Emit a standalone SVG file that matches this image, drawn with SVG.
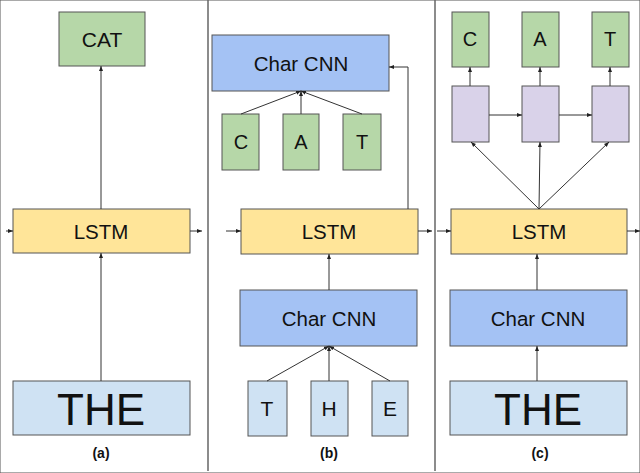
<svg xmlns="http://www.w3.org/2000/svg" width="640" height="473" viewBox="0 0 640 473">
<defs>
<marker id="ah" viewBox="0 0 10 10" refX="10" refY="5" markerWidth="5" markerHeight="5" orient="auto" markerUnits="userSpaceOnUse">
<path d="M0,1 L10,5 L0,9 z" fill="#222"/>
</marker>
<style>
rect{stroke:#555;stroke-width:1}
.g{fill:#b6d7a8}.y{fill:#ffe599}.b{fill:#a4c2f4}.lb{fill:#cfe2f3}.p{fill:#d9d2e9}
text{font-family:"Liberation Sans",Arial,sans-serif;fill:#111;text-anchor:middle;dominant-baseline:central}
.c line,.c path{stroke:#333;stroke-width:1;fill:none;marker-end:url(#ah)}
.div{stroke:#666;stroke-width:1.5}
.cap{font-weight:bold;font-size:14px}
.m{font-size:20.5px}.cn{font-size:20.5px}.l{font-size:20px}.big{font-size:44px}
</style>
</defs>
<rect width="640" height="473" fill="#fff" stroke="none"/>
<line class="div" x1="208" y1="0" x2="208" y2="471"/>
<line class="div" x1="435" y1="0" x2="435" y2="471"/>

<!-- panel a -->
<g id="a-cat"><rect class="g" x="59" y="12" width="86" height="54"/><text x="102" y="39" font-size="21">CAT</text></g>
<g id="a-lstm"><rect class="y" x="13" y="209" width="177" height="44"/><text class="m" x="101" y="231">LSTM</text></g>
<g id="a-the"><rect class="lb" x="13" y="381" width="177" height="54"/><text class="big" x="101" y="409">THE</text></g>
<text class="cap" x="101" y="453">(a)</text>

<!-- panel b -->
<g id="b-charcnn-top"><rect class="b" x="212" y="35" width="177" height="56"/><text class="cn" x="301" y="63">Char CNN</text></g>
<g id="b-c"><rect class="g" x="222" y="114" width="37" height="56"/><text class="l" x="241" y="142">C</text></g>
<g id="b-a"><rect class="g" x="283" y="114" width="36" height="56"/><text class="l" x="301" y="142">A</text></g>
<g id="b-t"><rect class="g" x="343" y="114" width="38" height="56"/><text class="l" x="362" y="142">T</text></g>
<g id="b-lstm"><rect class="y" x="241" y="209" width="177" height="45"/><text class="m" x="329" y="231">LSTM</text></g>
<g id="b-charcnn"><rect class="b" x="240" y="290" width="177" height="56"/><text class="cn" x="329" y="318">Char CNN</text></g>
<g id="b-th"><rect class="lb" x="248" y="381" width="39" height="55"/><text x="267" y="408" font-size="21">T</text></g>
<g id="b-h"><rect class="lb" x="311" y="381" width="37" height="55"/><text x="329" y="408" font-size="21">H</text></g>
<g id="b-e"><rect class="lb" x="372" y="381" width="36" height="55"/><text x="390" y="408" font-size="21">E</text></g>
<text class="cap" x="329" y="453">(b)</text>

<!-- panel c -->
<g id="c-c"><rect class="g" x="452" y="12" width="37" height="55"/><text class="l" x="470" y="39">C</text></g>
<g id="c-a"><rect class="g" x="522" y="12" width="37" height="55"/><text class="l" x="540" y="39">A</text></g>
<g id="c-t"><rect class="g" x="592" y="12" width="37" height="55"/><text class="l" x="610" y="39">T</text></g>
<g id="c-p1"><rect class="p" x="452" y="86" width="37" height="56"/></g>
<g id="c-p2"><rect class="p" x="522" y="86" width="37" height="56"/></g>
<g id="c-p3"><rect class="p" x="592" y="86" width="37" height="56"/></g>
<g id="c-lstm"><rect class="y" x="451" y="209" width="176" height="45"/><text class="m" x="539" y="231">LSTM</text></g>
<g id="c-charcnn"><rect class="b" x="450" y="290" width="177" height="56"/><text class="cn" x="538" y="318">Char CNN</text></g>
<g id="c-the"><rect class="lb" x="450" y="381" width="177" height="54"/><text class="big" x="538" y="409">THE</text></g>
<text class="cap" x="540" y="453">(c)</text>

<g class="c" id="connectors">
<line x1="101" y1="209" x2="101" y2="66"/>
<line x1="101" y1="381" x2="101" y2="253"/>
<line x1="6" y1="231" x2="13" y2="231"/>
<line x1="190" y1="231" x2="202" y2="231"/>

<line x1="241" y1="114" x2="301" y2="91"/>
<line x1="301" y1="114" x2="301" y2="91"/>
<line x1="362" y1="114" x2="301" y2="91"/>
<path d="M408,209 V67 H389"/>
<line x1="226" y1="231" x2="241" y2="231"/>
<line x1="418" y1="231" x2="432" y2="231"/>
<line x1="329" y1="290" x2="329" y2="254"/>
<line x1="267" y1="381" x2="329" y2="346"/>
<line x1="329" y1="381" x2="329" y2="346"/>
<line x1="390" y1="381" x2="329" y2="346"/>

<line x1="470" y1="86" x2="470" y2="67"/>
<line x1="540" y1="86" x2="540" y2="67"/>
<line x1="610" y1="86" x2="610" y2="67"/>
<line x1="489" y1="115" x2="522" y2="115"/>
<line x1="559" y1="115" x2="592" y2="115"/>
<line x1="539" y1="209" x2="471" y2="142"/>
<line x1="539" y1="209" x2="540" y2="142"/>
<line x1="539" y1="209" x2="609" y2="142"/>
<line x1="437" y1="231" x2="451" y2="231"/>
<line x1="627" y1="231" x2="640" y2="231"/>
<line x1="537" y1="290" x2="537" y2="254"/>
<line x1="537" y1="381" x2="537" y2="346"/>
</g>
</svg>
